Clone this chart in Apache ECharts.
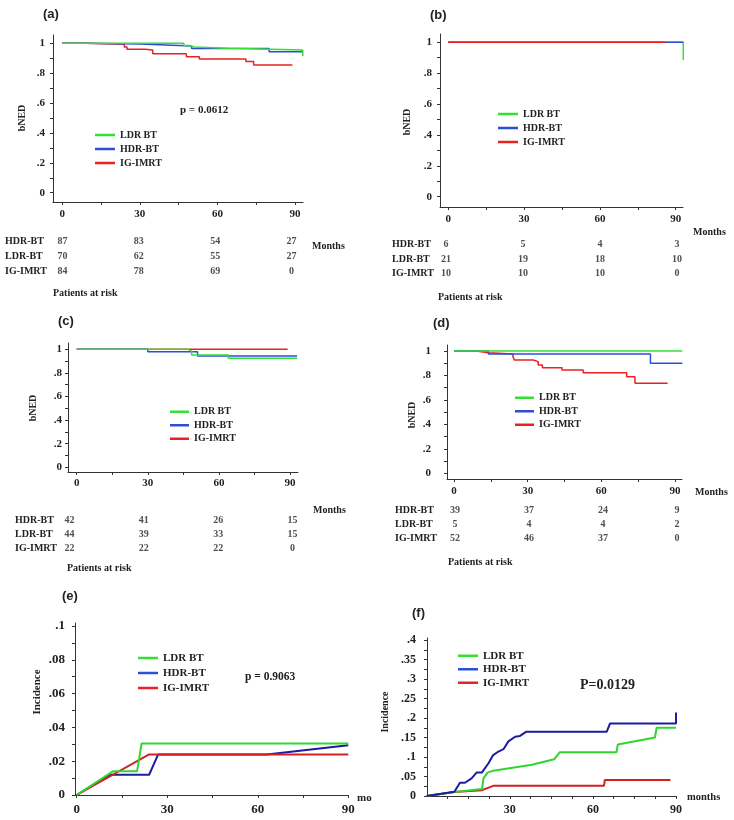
<!DOCTYPE html>
<html>
<head>
<meta charset="utf-8">
<script src="https://cdn.jsdelivr.net/npm/echarts@6/dist/echarts.min.js"></script>
<style>html,body{margin:0;padding:0;background:#fff;}#c{width:734px;height:820px;}</style>
</head>
<body>
<div id="c"></div>
<script>
// ---------- DATA ----------
const seriesNames = ['LDR BT', 'HDR-BT', 'IG-IMRT'];
const riskRows = ['HDR-BT', 'LDR-BT', 'IG-IMRT'];
const riskTimes = [0, 30, 60, 90];

// (a) bNED, all patients  [month, survival]
const kmA_LDR = [[0,1],[47,0.985],[49,0.975],[51,0.967],[64,0.955],[93,0.915]];
const kmA_HDR = [[0,1],[9,0.995],[30,0.982],[50,0.966],[80,0.944],[93,0.944]];
const kmA_IMRT = [[0,1],[9,0.993],[24,0.975],[25,0.96],[32,0.955],[35,0.93],[48,0.91],[53,0.895],[71,0.878],[74,0.855],[89,0.855]];
// (b)
const kmB_LDR = [[0,1],[93,1],[93,0.885]];
const kmB_HDR = [[0,1],[93,1]];
const kmB_IMRT = [[0,1],[86,1]];
// (c)
const kmC_LDR = [[0,1],[47,0.985],[48.5,0.952],[64,0.925],[93,0.925]];
const kmC_HDR = [[0,1],[30,0.98],[51,0.944],[93,0.944]];
const kmC_IMRT = [[0,1],[89,1]];
// (d)
const kmD_LDR = [[0,1],[93,1]];
const kmD_HDR = [[0,1],[14,0.975],[80,0.9],[93,0.9]];
const kmD_IMRT = [[0,1],[9,0.986],[14,0.975],[24,0.954],[24.6,0.926],[32.3,0.913],[34.3,0.886],[36,0.864],[44,0.845],[52.6,0.823],[70.3,0.79],[73.7,0.736],[87,0.736]];
// (e) incidence
const incE_LDR = [[0,0],[12,0.014],[20,0.014],[21.5,0.0305],[90,0.0305]];
const incE_HDR = [[0,0],[11,0.012],[24,0.012],[27,0.024],[63,0.024],[90,0.0295]];
const incE_IMRT = [[0,0],[24,0.024],[90,0.024]];
// (f) incidence
const incF_LDR = [[0,0],[10,0.01],[20,0.018],[20.5,0.045],[22,0.06],[24,0.065],[38,0.08],[46,0.094],[48,0.112],[68.5,0.112],[69,0.132],[82.4,0.15],[83,0.175],[90,0.175]];
const incF_HDR = [[0,0],[10,0.011],[12,0.034],[13.8,0.034],[16.2,0.045],[18,0.06],[19.9,0.06],[22.3,0.084],[24,0.105],[25.9,0.114],[27.7,0.12],[29.5,0.14],[31.9,0.152],[33.7,0.154],[36,0.165],[65,0.165],[66.2,0.186],[90,0.186],[90,0.214]];
const incF_IMRT = [[0,0],[10,0.01],[20,0.015],[24,0.026],[64,0.026],[64.3,0.041],[88,0.041]];

// patients at risk
const riskA_HDR = [87,83,54,27], riskA_LDR = [70,62,55,27], riskA_IMRT = [84,78,69,0];
const riskB_HDR = [6,5,4,3], riskB_LDR = [21,19,18,10], riskB_IMRT = [10,10,10,0];
const riskC_HDR = [42,41,26,15], riskC_LDR = [44,39,33,15], riskC_IMRT = [22,22,22,0];
const riskD_HDR = [39,37,24,9], riskD_LDR = [5,4,4,2], riskD_IMRT = [52,46,37,0];

const kmYLabels = [0,0.2,0.4,0.6,0.8,1];
const kmYTicks = [0,0.1,0.2,0.3,0.4,0.5,0.6,0.7,0.8,0.9,1];
const monthLabels = [0,30,60,90];
const monthTicks = [0,15,30,45,60,75,90];
const monthTicksF = [0,7.5,15,22.5,30,37.5,45,52.5,60,67.5,75,82.5,90];
const eYLabels = [0,0.02,0.04,0.06,0.08,0.1];
const eYTicks = [0,0.01,0.02,0.03,0.04,0.05,0.06,0.07,0.08,0.09,0.1];
const fYLabels = [0,0.05,0.1,0.15,0.2,0.25,0.3,0.35,0.4];
const fYTicks = [0,0.025,0.05,0.075,0.1,0.125,0.15,0.175,0.2,0.225,0.25,0.275,0.3,0.325,0.35,0.375,0.4];

// ---------- LAYOUT HELPERS ----------
const SERIF = "'Liberation Serif','Times New Roman',serif";
const SANS = "'Liberation Sans',Arial,sans-serif";
const TXT = '#222';
const C1 = {g:'#35e035', b:'#2c4fd6', r:'#e82222'};
const C2 = {g:'#2fd62f', b:'#1c1ca0', r:'#d42020'};

function rng(p0, v0, p1, v1, a, b) {
  const k = (v1 - v0) / (p1 - p0);
  return [v0 + (a - p0) * k, v0 + (b - p0) * k];
}
const fmt = v => String(Math.round(v * 1000) / 1000).replace(/^0\./, '.');

function ax(gi, r, labels, ticks, fs, margin) {
  return {type:'value', gridIndex:gi, min:r[0], max:r[1],
    axisLine:{show:true, onZero:false, lineStyle:{color:'#333', width:1}},
    splitLine:{show:false},
    axisTick:{show:true, customValues:ticks, length:3, lineStyle:{color:'#333'}},
    axisLabel:{customValues:labels, formatter:fmt, fontFamily:SERIF, fontWeight:'bold', fontSize:fs, color:TXT, margin:margin}};
}

const grids = [
  {left:53, top:35, width:250, height:167},     // a
  {left:440, top:34, width:243, height:173},    // b
  {left:68, top:343, width:230, height:129},    // c
  {left:447, top:345, width:235, height:134},   // d
  {left:75, top:623, width:273.5, height:172},  // e
  {left:427, top:638, width:249, height:158},   // f
  // at-risk tables
  {left:53, top:234, width:250, height:45},
  {left:440, top:237, width:243, height:44},
  {left:68, top:513, width:230, height:42},
  {left:447, top:503, width:235, height:42}
];

const xAxes = [
  ax(0, rng(62.3,0,295,90,53,303), monthLabels, monthTicks, 11, 7),
  ax(1, rng(448.3,0,675.7,90,440,683), monthLabels, monthTicks, 11, 7),
  ax(2, rng(76.7,0,290,90,68,298), monthLabels, monthTicks, 11, 6),
  ax(3, rng(454,0,675,90,447,682), monthLabels, monthTicks, 11, 7),
  ax(4, rng(76.7,0,348.3,90,75,348.5), monthLabels, monthTicks, 13, 8),
  ax(5, rng(426.7,0,676,90,427,676), monthLabels, monthTicksF, 12, 8)
];
const yAxes = [
  ax(0, rng(192.7,0,43.3,1,202,35), kmYLabels, kmYTicks, 11, 8),
  ax(1, rng(196.7,0,42.3,1,207,34), kmYLabels, kmYTicks, 11, 8),
  ax(2, rng(467.3,0,349.3,1,472,343), kmYLabels, kmYTicks, 11, 6),
  ax(3, rng(473.3,0,351,1,479,345), kmYLabels, kmYTicks, 11, 16),
  ax(4, rng(795,0,626,0.1,795,623), eYLabels, eYTicks, 13, 10),
  ax(5, rng(796,0,640,0.4,796,638), fYLabels, fYTicks, 12, 11)
];

// table axes
const tableDefs = [
  {gi:6, xr:rng(62.5,0,291.5,90,53,303), margin:48, rows:[riskA_HDR,riskA_LDR,riskA_IMRT]},
  {gi:7, xr:rng(446,0,677,90,440,683), margin:48, rows:[riskB_HDR,riskB_LDR,riskB_IMRT]},
  {gi:8, xr:rng(69.5,0,292.5,90,68,298), margin:53, rows:[riskC_HDR,riskC_LDR,riskC_IMRT]},
  {gi:9, xr:rng(455,0,677,90,447,682), margin:52, rows:[riskD_HDR,riskD_LDR,riskD_IMRT]}
];
tableDefs.forEach(t => {
  xAxes.push({type:'value', gridIndex:t.gi, min:t.xr[0], max:t.xr[1], show:false});
  yAxes.push({type:'category', gridIndex:t.gi, data:riskRows, inverse:true,
    axisLine:{show:false}, axisTick:{show:false}, splitLine:{show:false},
    axisLabel:{align:'left', margin:t.margin, fontFamily:SERIF, fontWeight:'bold', fontSize:10, color:TXT}});
});

function ln(name, data, gi, color, step, w) {
  return {type:'line', name:name, data:data, xAxisIndex:gi, yAxisIndex:gi,
    step: step ? 'end' : false, symbol:'none', showSymbol:false,
    lineStyle:{width:w, color:color}, itemStyle:{color:color}, silent:true};
}

const series = [
  ln('IG-IMRT', kmA_IMRT, 0, C1.r, true, 1.5),
  ln('HDR-BT', kmA_HDR, 0, C1.b, true, 1.5),
  ln('LDR BT', kmA_LDR, 0, C1.g, true, 1.5),

  ln('LDR BT', kmB_LDR, 1, C1.g, true, 1.5),
  ln('HDR-BT', kmB_HDR, 1, C1.b, true, 1.5),
  ln('IG-IMRT', kmB_IMRT, 1, C1.r, true, 1.5),

  ln('IG-IMRT', kmC_IMRT, 2, C1.r, true, 1.5),
  ln('HDR-BT', kmC_HDR, 2, C1.b, true, 1.5),
  ln('LDR BT', kmC_LDR, 2, C1.g, true, 1.5),

  ln('IG-IMRT', kmD_IMRT, 3, C1.r, true, 1.5),
  ln('HDR-BT', kmD_HDR, 3, C1.b, true, 1.5),
  ln('LDR BT', kmD_LDR, 3, C1.g, true, 1.5),

  ln('HDR-BT', incE_HDR, 4, C2.b, false, 2),
  ln('IG-IMRT', incE_IMRT, 4, C2.r, false, 2),
  ln('LDR BT', incE_LDR, 4, C2.g, false, 2),

  ln('IG-IMRT', incF_IMRT, 5, C2.r, false, 2),
  ln('LDR BT', incF_LDR, 5, C2.g, false, 2),
  ln('HDR-BT', incF_HDR, 5, C2.b, false, 2)
];

tableDefs.forEach(t => {
  const data = [];
  t.rows.forEach((vals, ri) => vals.forEach((v, ci) => data.push([riskTimes[ci], ri, v])));
  series.push({type:'scatter', xAxisIndex:t.gi, yAxisIndex:t.gi, data:data, symbolSize:1,
    itemStyle:{color:'rgba(0,0,0,0)'}, silent:true,
    label:{show:true, position:[0.5, 0.5], align:'center', verticalAlign:'middle',
      formatter:p => String(p.value[2]), textBorderWidth:0,
      fontFamily:SERIF, fontWeight:'bold', fontSize:10, color:TXT}});
});

function lg(left, top, fs, lh, iw) {
  return {orient:'vertical', left:left, top:top, padding:0, itemGap:0, icon:'rect',
    itemWidth:iw, itemHeight:2.5, selectedMode:false,
    textStyle:{fontFamily:SERIF, fontWeight:'bold', fontSize:fs, lineHeight:lh, color:TXT},
    data:[{name:'LDR BT', itemStyle:{color:C1.g}}, {name:'HDR-BT', itemStyle:{color:C1.b}}, {name:'IG-IMRT', itemStyle:{color:C1.r}}]};
}
const legends = [
  lg(95, 128, 10, 14, 20),
  lg(498, 107, 10, 14, 20),
  lg(170, 405, 10, 13.5, 19),
  lg(515, 391, 10, 13.5, 19),
  lg(138, 650.5, 11, 15, 20),
  lg(458, 649, 11, 13.5, 20)
];

function t(x, y, text, opt) {
  opt = opt || {};
  return {type:'text', x:x, y:y, rotation: opt.rot || 0, silent:true,
    style:{text:text, fontFamily: opt.sans ? SANS : SERIF, fontWeight:'bold', fontSize: opt.fs || 10,
      fill:TXT, textAlign: opt.align || 'left', textVerticalAlign:'middle'}};
}
const V = Math.PI / 2;
const graphics = [
  t(43, 14, '(a)', {sans:true, fs:13}),
  t(430, 15, '(b)', {sans:true, fs:13}),
  t(58, 321, '(c)', {sans:true, fs:13}),
  t(433, 323, '(d)', {sans:true, fs:13}),
  t(62, 596, '(e)', {sans:true, fs:13}),
  t(412, 613, '(f)', {sans:true, fs:13}),
  t(22, 118, 'bNED', {rot:V, align:'center'}),
  t(407, 122, 'bNED', {rot:V, align:'center'}),
  t(33, 408, 'bNED', {rot:V, align:'center'}),
  t(412, 415, 'bNED', {rot:V, align:'center'}),
  t(37, 692, 'Incidence', {rot:V, align:'center', fs:11}),
  t(385, 712, 'Incidence', {rot:V, align:'center', fs:10}),
  t(180, 110, 'p = 0.0612', {fs:11}),
  t(245, 677, 'p = 0.9063', {fs:11.5}),
  t(580, 685, 'P=0.0129', {fs:14}),
  t(312, 246, 'Months'),
  t(693, 232, 'Months'),
  t(313, 510, 'Months'),
  t(695, 492, 'Months'),
  t(357, 798, 'mo', {fs:11}),
  t(687, 797, 'months', {fs:10.5}),
  t(53, 293, 'Patients at risk'),
  t(438, 297, 'Patients at risk'),
  t(67, 568, 'Patients at risk'),
  t(448, 562, 'Patients at risk')
];

const chart = echarts.init(document.getElementById('c'), null, {renderer:'canvas'});
chart.setOption({
  backgroundColor:'#fff',
  animation:false,
  grid:grids,
  xAxis:xAxes,
  yAxis:yAxes,
  legend:legends,
  series:series,
  graphic:graphics
});
</script>
</body>
</html>
